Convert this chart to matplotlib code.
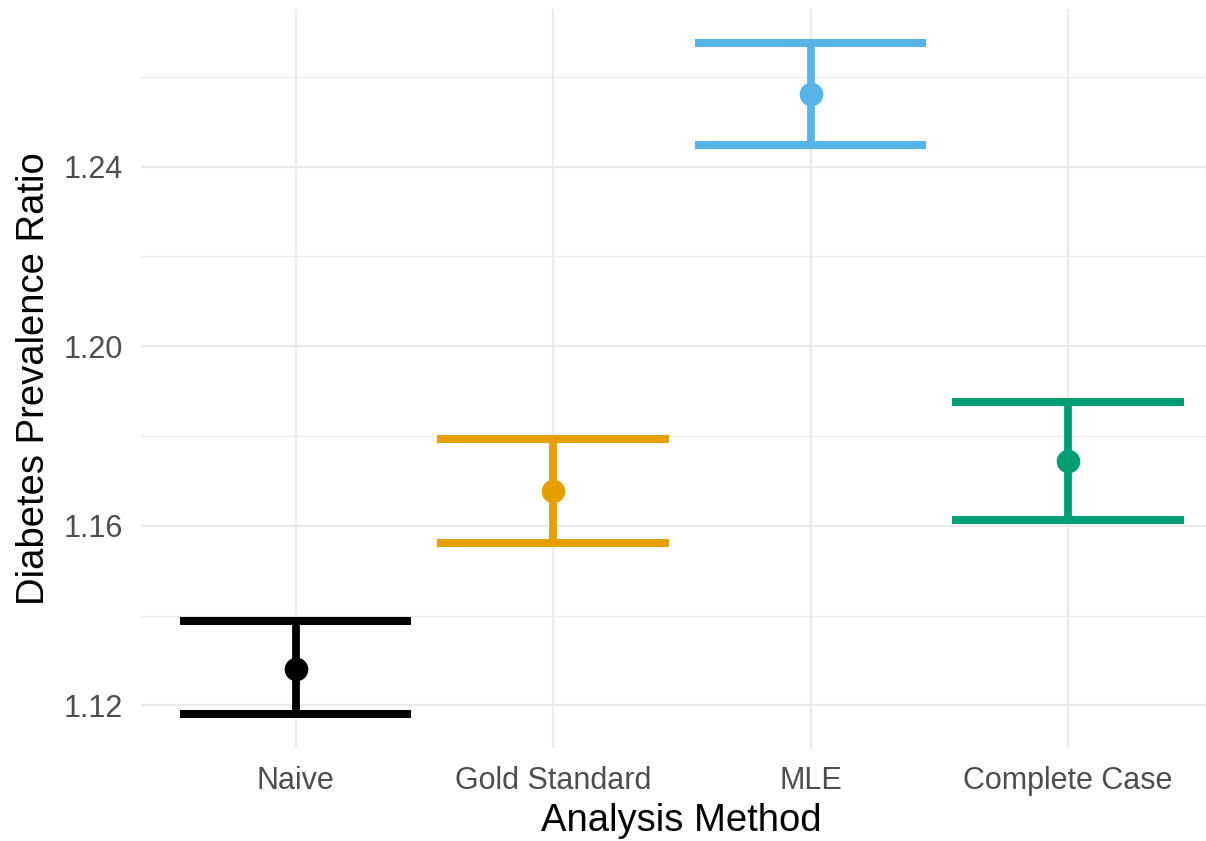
import numpy as np
import matplotlib.pyplot as plt

# values
methods = ['Naive', 'Gold Standard', 'MLE', 'Complete Case']
estimate = [1.1282, 1.1677, 1.2561, 1.1744]
lower = [1.1180, 1.1562, 1.2447, 1.1613]
upper = [1.1387, 1.1794, 1.2676, 1.1876]
colors = ['#000000', '#E69F00', '#56B4E9', '#009E73']

plt.rcParams['font.family'] = ['Liberation Sans', 'DejaVu Sans']

W, H = 1206, 841
fig = plt.figure(figsize=(W / 100, H / 100), dpi=100)
# panel: left edge at 141 px, 257.5 px per category (ggplot discrete expansion 0.6)
left_px, top_px, bottom_px = 141, 9, 748
unit = 257.5
ax = fig.add_axes([left_px / W, 1 - bottom_px / H,
                   4.2 * unit / W, (bottom_px - top_px) / H])

x = np.arange(len(methods))
half = 0.45
for i in range(len(methods)):
    ax.vlines(x[i], lower[i], upper[i], color=colors[i], lw=5.6, zorder=3)
    ax.hlines([lower[i], upper[i]], x[i] - half, x[i] + half,
              color=colors[i], lw=5.8, zorder=3)
    ax.plot(x[i], estimate[i], 'o', color=colors[i], ms=17, mew=0, zorder=4)

ax.set_xlim(-0.6, len(methods) - 1 + 0.6)
lo, hi = min(lower), max(upper)
pad = 0.05 * (hi - lo)
ax.set_ylim(lo - pad, hi + pad)

ax.set_yticks([1.12, 1.16, 1.20, 1.24])
ax.set_yticks([1.14, 1.18, 1.22, 1.26], minor=True)
ax.set_yticklabels(['1.12', '1.16', '1.20', '1.24'])
ax.set_xticks(x)
ax.set_xticklabels(methods)

ax.grid(True, which='major', color='#EBEBEB', lw=1.6)
ax.grid(True, which='minor', axis='y', color='#EBEBEB', lw=0.9)
ax.set_axisbelow(True)
for s in ax.spines.values():
    s.set_visible(False)
ax.tick_params(which='both', length=0)
ax.tick_params(axis='x', labelsize=22, labelcolor='#4D4D4D', pad=13)
ax.tick_params(axis='y', labelsize=22, labelcolor='#4D4D4D', pad=13)

ax.set_xlabel('Analysis Method', fontsize=27.5, labelpad=5)
ax.set_ylabel('Diabetes Prevalence Ratio', fontsize=27.5, labelpad=8)

fig.savefig('out.png', dpi=100)
